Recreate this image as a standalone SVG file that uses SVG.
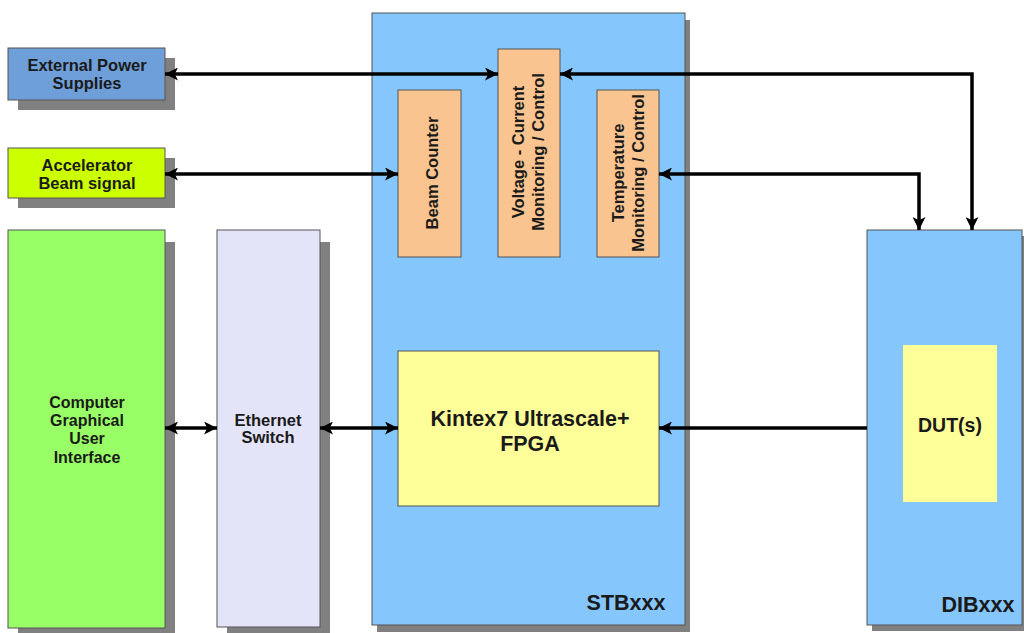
<svg xmlns="http://www.w3.org/2000/svg" width="1024" height="633" viewBox="0 0 1024 633">
<defs>
<style>
.box{stroke:#555;stroke-width:1}
.sh{fill:#808080}
.t{font-family:"Liberation Sans",Arial,sans-serif;font-weight:bold;fill:#1a1a1a;text-anchor:middle}
.c{stroke:#000;stroke-width:3.5;fill:none}
</style>
<marker id="ah" viewBox="0 0 10 10" refX="10" refY="5" markerUnits="userSpaceOnUse" markerWidth="13" markerHeight="13" orient="auto-start-reverse">
<path d="M0,0 L10,5 L0,10 L2.5,5 z" fill="#000"/>
</marker>
</defs>
<rect width="1024" height="633" fill="#fff"/>

<g id="eps">
<rect class="sh" x="18" y="58" width="157" height="52"/>
<rect class="box" x="8" y="48" width="157" height="52" fill="#6f9fd8"/>
<text class="t" font-size="16.5" x="87" y="71">External Power</text>
<text class="t" font-size="16.5" x="87" y="89">Supplies</text>
</g>

<g id="abs">
<rect class="sh" x="18" y="158" width="157" height="50"/>
<rect class="box" x="8" y="148" width="157" height="50" fill="#ccff00"/>
<text class="t" font-size="16.5" x="87" y="171">Accelerator</text>
<text class="t" font-size="16.5" x="87" y="189">Beam signal</text>
</g>

<g id="gui">
<rect class="sh" x="18" y="242" width="157" height="396"/>
<rect class="box" x="8" y="230" width="157" height="398" fill="#99ff66"/>
<text class="t" font-size="16" x="87" y="408">Computer</text>
<text class="t" font-size="16" x="87" y="426">Graphical</text>
<text class="t" font-size="16" x="87" y="444">User</text>
<text class="t" font-size="16" x="87" y="463">Interface</text>
</g>

<g id="eth">
<rect class="sh" x="227" y="242" width="103" height="395"/>
<rect class="box" x="217" y="230" width="103" height="397" fill="#e4e4f8"/>
<text class="t" font-size="16.5" x="268" y="426">Ethernet</text>
<text class="t" font-size="16.5" x="268" y="443">Switch</text>
</g>

<g id="stb">
<rect class="sh" x="377" y="20" width="313" height="612"/>
<rect class="box" x="372" y="13" width="313" height="612" fill="#85c6fc"/>
<text class="t" font-size="21.5" x="626" y="610">STBxxx</text>
</g>

<g id="beam">
<rect class="box" x="398" y="90" width="63" height="167" fill="#f9c48f"/>
<text class="t" font-size="16.5" transform="translate(438,173) rotate(-90)">Beam Counter</text>
</g>

<g id="volt">
<rect class="box" x="498" y="49" width="62" height="208" fill="#f9c48f"/>
<text class="t" font-size="16.5" transform="translate(524,152) rotate(-90)">Voltage - Current</text>
<text class="t" font-size="16.5" transform="translate(544,152) rotate(-90)">Monitoring / Control</text>
</g>

<g id="temp">
<rect class="box" x="597" y="90" width="62" height="167" fill="#f9c48f"/>
<text class="t" font-size="16.5" transform="translate(624,173) rotate(-90)">Temperature</text>
<text class="t" font-size="16.5" transform="translate(644,173) rotate(-90)">Monitoring / Control</text>
</g>

<g id="fpga">
<rect class="box" x="398" y="351" width="261" height="155" fill="#ffff99"/>
<text class="t" font-size="21.5" x="530" y="426">Kintex7 Ultrascale+</text>
<text class="t" font-size="21.5" x="530" y="451">FPGA</text>
</g>

<g id="dib">
<rect class="sh" x="872" y="236" width="155" height="395"/>
<rect class="box" x="867" y="230" width="155" height="395" fill="#85c6fc"/>
<text class="t" font-size="21.5" x="978" y="612">DIBxxx</text>
</g>

<g id="dut">
<rect x="903" y="345" width="94" height="157" fill="#ffff99"/>
<text class="t" font-size="19.5" x="950" y="432">DUT(s)</text>
</g>

<g id="connectors">
<line class="c" x1="165" y1="74" x2="498" y2="74" marker-start="url(#ah)" marker-end="url(#ah)"/>
<polyline class="c" points="560,74 972,74 972,230" marker-start="url(#ah)" marker-end="url(#ah)"/>
<line class="c" x1="165" y1="174" x2="398" y2="174" marker-start="url(#ah)" marker-end="url(#ah)"/>
<polyline class="c" points="659,174 919,174 919,230" marker-start="url(#ah)" marker-end="url(#ah)"/>
<line class="c" x1="165" y1="428" x2="217" y2="428" marker-start="url(#ah)" marker-end="url(#ah)"/>
<line class="c" x1="320" y1="428" x2="398" y2="428" marker-start="url(#ah)" marker-end="url(#ah)"/>
<line class="c" x1="867" y1="428" x2="659" y2="428" marker-end="url(#ah)"/>
</g>
</svg>
